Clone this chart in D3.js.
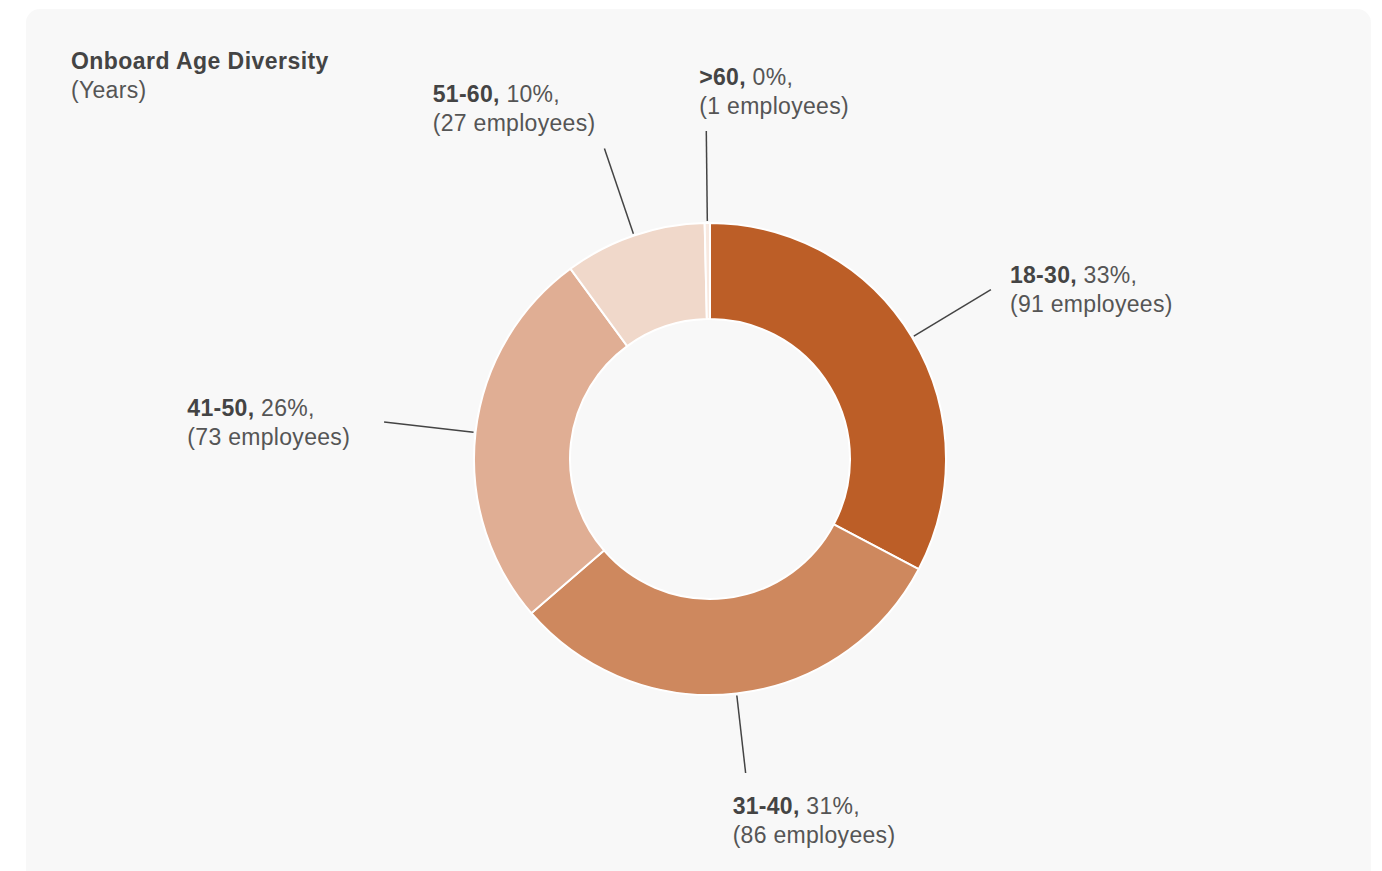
<!DOCTYPE html>
<html>
<head>
<meta charset="utf-8">
<script src="https://cdn.jsdelivr.net/npm/d3@7"></script>
<style>
  html, body { margin: 0; padding: 0; background: #ffffff; }
  svg { display: block; font-family: "Liberation Sans", Arial, Helvetica, sans-serif; }
</style>
</head>
<body>
<svg id="chart" width="1382" height="871"></svg>
<script>
// Age bands and head counts, drawn clockwise from 12 o'clock
const ageBands = ["18-30", "31-40", "41-50", "51-60", ">60"];
const employeeCounts = [91, 86, 73, 27, 1];
const sliceColors = ["#bc5e27", "#ce885e", "#e0ae94", "#f0d8ca", "#f8e9e0"];

const chartTitle = "Onboard Age Diversity";
const chartSubtitle = "(Years)";

const svg = d3.select("#chart");

// card background
svg.append("rect")
  .attr("x", 26).attr("y", 9)
  .attr("width", 1345).attr("height", 880)
  .attr("rx", 14).attr("ry", 14)
  .attr("fill", "#f8f8f8");

// title block
svg.append("text")
  .attr("x", 71).attr("y", 69)
  .attr("font-size", 23).attr("font-weight", "bold")
  .attr("letter-spacing", 0.45)
  .attr("fill", "#444")
  .text(chartTitle);
svg.append("text")
  .attr("x", 71).attr("y", 98)
  .attr("font-size", 23)
  .attr("letter-spacing", 0.3)
  .attr("fill", "#555")
  .text(chartSubtitle);

const cx = 710, cy = 459;
const outerR = 236, innerR = 140, tickR = 328;

const data = ageBands.map((band, i) => ({ band, count: employeeCounts[i], color: sliceColors[i] }));
const total = d3.sum(employeeCounts);

const pie = d3.pie().value(d => d.count).sort(null);
const arc = d3.arc().innerRadius(innerR).outerRadius(outerR);
const arcs = pie(data);

const g = svg.append("g").attr("transform", `translate(${cx},${cy})`);

g.selectAll("path.slice")
  .data(arcs)
  .join("path")
  .attr("class", "slice")
  .attr("d", arc)
  .attr("fill", d => d.data.color)
  .attr("stroke", "#ffffff")
  .attr("stroke-width", 2);

// leader lines and two-line labels
arcs.forEach(d => {
  const a = (d.startAngle + d.endAngle) / 2;
  const s = Math.sin(a), c = Math.cos(a);
  const bottom = c < -0.7;
  const r1 = bottom ? tickR - 12 : tickR;
  const x0 = s * (outerR + 2), y0 = -c * (outerR + 2);
  const x1 = s * r1, y1 = -c * r1;

  g.append("line")
    .attr("x1", x0).attr("y1", y0)
    .attr("x2", x1).attr("y2", y1)
    .attr("stroke", "#444")
    .attr("stroke-width", 1.5);

  const pct = Math.round(d.data.count / total * 100);
  const lab = g.append("g");
  const t = lab.append("text")
    .attr("font-size", 23)
    .attr("letter-spacing", 0.3)
    .attr("fill", "#555");
  t.append("tspan").attr("x", 0).attr("y", 0)
    .attr("font-weight", "bold").attr("fill", "#444")
    .text(d.data.band + ",");
  t.append("tspan").text(" " + pct + "%,");
  t.append("tspan").attr("x", 0).attr("y", 29)
    .text("(" + d.data.count + " employees)");

  const bb = lab.node().getBBox();
  let left, top;
  if (Math.abs(c) > 0.7) {
    // above or below the ring
    if (s < -0.2) left = x1 - 9 - bb.width;
    else left = x1 - (c > 0 ? 7 : 13);
    if (c > 0) top = y1 - 12 - bb.height;
    else top = y1 + 20;
  } else {
    // beside the ring
    top = y1 - bb.height / 2;
    if (s > 0) left = x1 + 19;
    else left = x1 - 34 - bb.width;
  }
  lab.attr("transform", `translate(${left - bb.x},${top - bb.y})`);
});
</script>
</body>
</html>
